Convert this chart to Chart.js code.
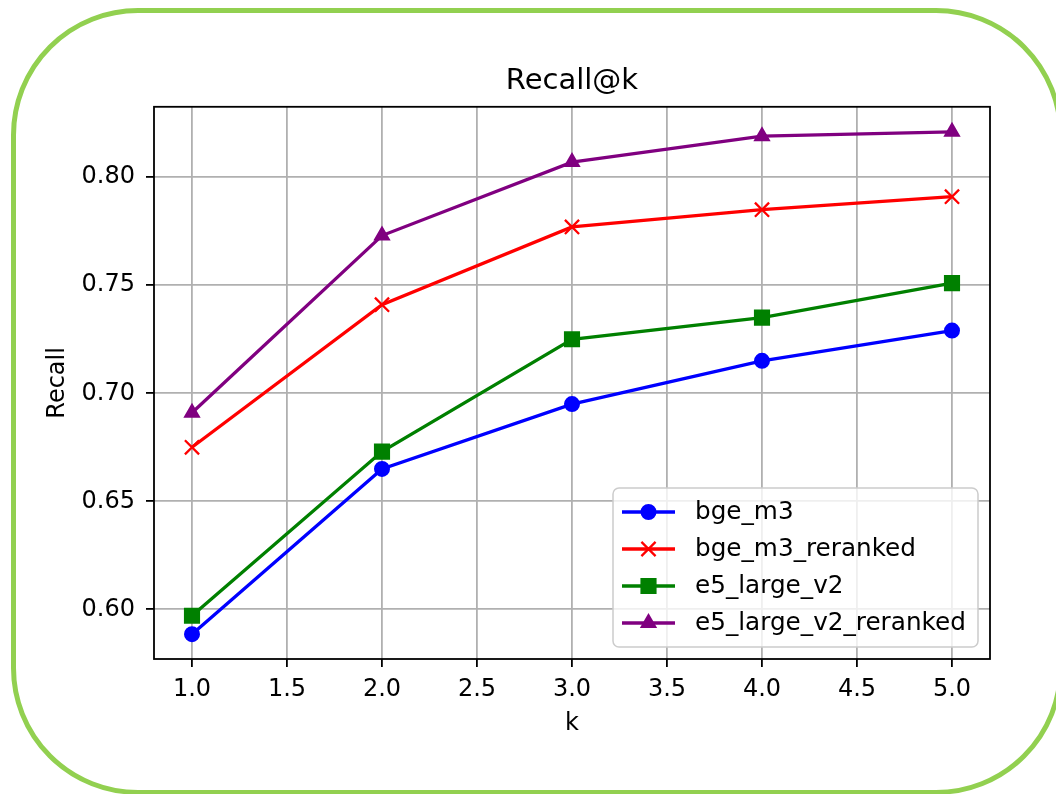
<!DOCTYPE html>
<html>
<head>
<meta charset="utf-8">
<script src="https://cdn.jsdelivr.net/npm/chart.js@4.4.1/dist/chart.umd.min.js"></script>
<style>
  html, body { margin: 0; padding: 0; background: #fff; overflow: hidden; }
  #frame {
    position: absolute; left: 11px; top: 8px; width: 1052px; height: 787px;
    box-sizing: border-box; border: 5px solid #92d050; border-radius: 127px;
  }
  #canvas { position: absolute; left: 0; top: 0; }
</style>
</head>
<body>
<div id="frame"></div>
<canvas id="canvas" width="1056" height="794"></canvas>
<script>
// data
const kValues = [1, 2, 3, 4, 5];
const bgeM3 = [0.5885, 0.665, 0.695, 0.715, 0.729];
const bgeM3Reranked = [0.675, 0.741, 0.777, 0.785, 0.791];
const e5LargeV2 = [0.597, 0.673, 0.725, 0.735, 0.751];
const e5LargeV2Reranked = [0.691, 0.773, 0.807, 0.819, 0.821];

const kTicks = [1.0, 1.5, 2.0, 2.5, 3.0, 3.5, 4.0, 4.5, 5.0];
const recallTicks = [0.60, 0.65, 0.70, 0.75, 0.80];

Chart.defaults.font.family = "'DejaVu Sans', sans-serif";
Chart.defaults.color = "#000";

function pts(vals) {
  return kValues.map((k, i) => ({ x: k, y: vals[i] }));
}

// black box round the plot, drawn over the lines like matplotlib spines
const spines = {
  id: "spines",
  afterDatasetsDraw(chart) {
    const { ctx, chartArea: a } = chart;
    ctx.save();
    ctx.strokeStyle = "#000";
    ctx.lineWidth = 1.8;
    ctx.strokeRect(a.left, a.top, a.right - a.left, a.bottom - a.top);
    ctx.restore();
  },
};

// legend box in the lower right corner of the plot
const innerLegend = {
  id: "innerLegend",
  afterDraw(chart) {
    const ctx = chart.ctx;
    const bx = 613, by = 488, bw = 365, bh = 159;
    ctx.save();
    ctx.beginPath();
    ctx.roundRect(bx, by, bw, bh, 6);
    ctx.fillStyle = "rgba(255,255,255,0.8)";
    ctx.fill();
    ctx.strokeStyle = "#cccccc";
    ctx.lineWidth = 1.5;
    ctx.stroke();

    chart.data.datasets.forEach((ds, i) => {
      const y = 512 + i * 37;
      ctx.strokeStyle = ds.borderColor;
      ctx.lineWidth = ds.borderWidth;
      ctx.beginPath();
      ctx.moveTo(622, y);
      ctx.lineTo(675, y);
      ctx.stroke();
      ctx.fillStyle = ds.pointBackgroundColor;
      ctx.strokeStyle = ds.pointBorderColor;
      ctx.lineWidth = ds.pointBorderWidth;
      Chart.helpers.drawPoint(ctx, {
        pointStyle: ds.pointStyle,
        radius: ds.pointRadius,
        borderWidth: ds.pointBorderWidth,
        rotation: 0,
      }, 648.5, y);
      ctx.fillStyle = "#000";
      ctx.font = "24.7px 'DejaVu Sans'";
      ctx.textBaseline = "middle";
      ctx.textAlign = "left";
      ctx.fillText(ds.label, 695, y + 1);
    });
    ctx.restore();
  },
};

function series(label, vals, color, style, radius, bw) {
  return {
    label: label,
    data: pts(vals),
    borderColor: color,
    backgroundColor: color,
    borderWidth: 3.3,
    pointStyle: style,
    pointRadius: radius,
    pointHoverRadius: radius,
    pointBackgroundColor: color,
    pointBorderColor: color,
    pointBorderWidth: bw,
    tension: 0,
    fill: false,
  };
}

var ctx = document.getElementById("canvas").getContext("2d");
var myChart = new Chart(ctx, {
  type: "line",
  data: {
    datasets: [
      series("bge_m3", bgeM3, "#0000ff", "circle", 7, 2),
      series("bge_m3_reranked", bgeM3Reranked, "#ff0000", "crossRot", 10, 2.3),
      series("e5_large_v2", e5LargeV2, "#008000", "rect", 10, 2),
      series("e5_large_v2_reranked", e5LargeV2Reranked, "#800080", "triangle", 8, 2),
    ],
  },
  plugins: [spines, innerLegend],
  options: {
    responsive: false,
    animation: false,
    layout: {
      padding: { left: 43, right: 66, top: 0, bottom: 56 },
    },
    plugins: {
      legend: { display: false },
      tooltip: { enabled: false },
      title: {
        display: true,
        text: "Recall@k",
        fullSize: false,
        color: "#000",
        font: { size: 29, weight: "normal" },
        padding: { top: 64, bottom: 8 },
      },
    },
    scales: {
      x: {
        type: "linear",
        min: 0.8,
        max: 5.2,
        afterBuildTicks: (scale) => {
          scale.ticks = kTicks.map((v) => ({ value: v }));
        },
        afterFit: (scale) => {
          scale.height = 79;
        },
        ticks: {
          padding: 8,
          font: { size: 24 },
          color: "#000",
          maxRotation: 0,
          callback: (v) => Number(v).toFixed(1),
        },
        grid: {
          color: "#b0b0b0",
          lineWidth: 1.8,
          tickColor: "#000",
          tickWidth: 1.8,
          tickLength: 8,
        },
        border: { display: false },
        title: {
          display: true,
          text: "k",
          color: "#000",
          font: { size: 24 },
          padding: 0,
        },
      },
      y: {
        min: 0.577,
        max: 0.8326,
        afterBuildTicks: (scale) => {
          scale.ticks = recallTicks.map((v) => ({ value: v }));
        },
        afterFit: (scale) => {
          scale.width = 111;
        },
        ticks: {
          padding: 11,
          font: { size: 24 },
          color: "#000",
          callback: (v) => Number(v).toFixed(2),
        },
        grid: {
          color: "#b0b0b0",
          lineWidth: 1.8,
          tickColor: "#000",
          tickWidth: 1.8,
          tickLength: 8,
        },
        border: { display: false },
        title: {
          display: true,
          text: "Recall",
          color: "#000",
          font: { size: 24 },
          padding: 0,
        },
      },
    },
  },
});
</script>
</body>
</html>
